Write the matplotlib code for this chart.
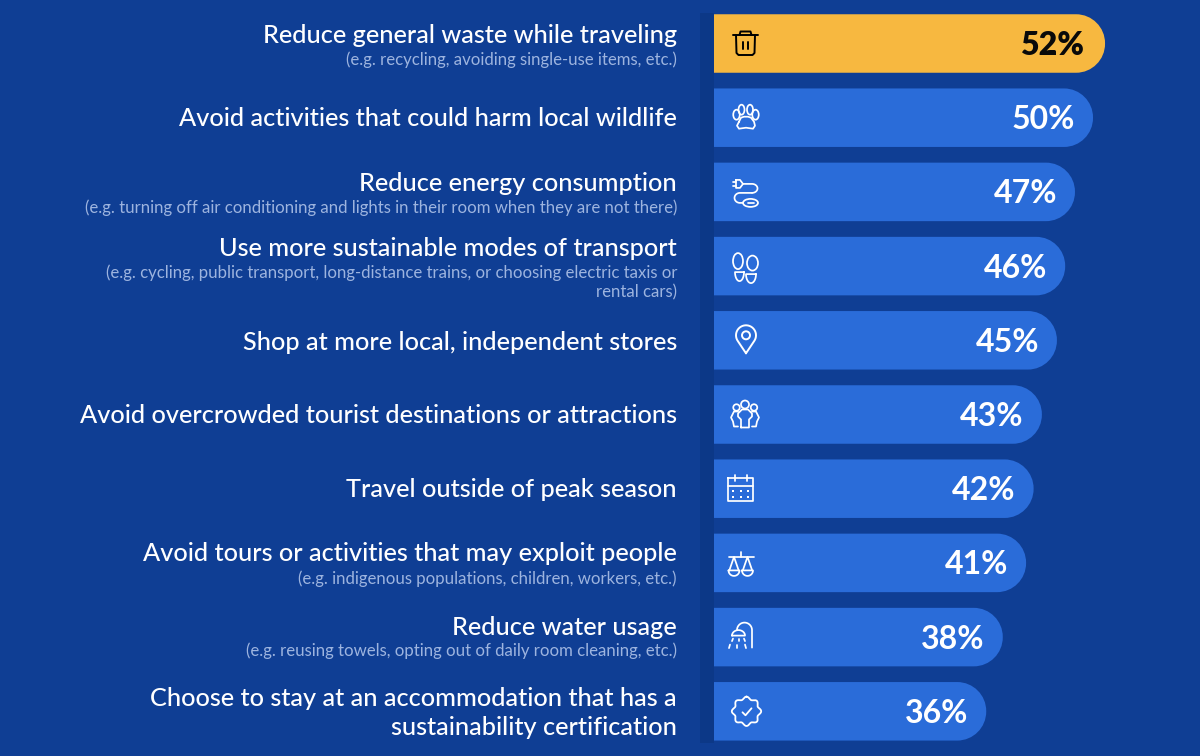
import numpy as np
import matplotlib
matplotlib.use('Agg')
import matplotlib.pyplot as plt
from matplotlib.path import Path
from matplotlib.patches import PathPatch, Ellipse, Rectangle

plt.rcParams['font.family'] = ['Lato', 'DejaVu Sans']

labels = ['Reduce general waste while traveling',
          'Avoid activities that could harm local wildlife',
          'Reduce energy consumption',
          'Use more sustainable modes of transport',
          'Shop at more local, independent stores',
          'Avoid overcrowded tourist destinations or attractions',
          'Travel outside of peak season',
          'Avoid tours or activities that may exploit people',
          'Reduce water usage',
          'Choose to stay at an accommodation that has a\nsustainability certification']
notes = ['(e.g. recycling, avoiding single-use items, etc.)',
         '',
         '(e.g. turning off air conditioning and lights in their room when they are not there)',
         '(e.g. cycling, public transport, long-distance trains, or choosing electric taxis or\nrental cars)',
         '',
         '',
         '',
         '(e.g. indigenous populations, children, workers, etc.)',
         '(e.g. reusing towels, opting out of daily room cleaning, etc.)',
         '']
pct_labels = ['52%', '50%', '47%', '46%', '45%', '43%', '42%', '41%', '38%', '36%']
# bar lengths as measured, they run a bit off the printed percentages
bar_lengths = [52.0, 50.4, 48.0, 46.7, 45.6, 43.6, 42.5, 41.5, 38.4, 36.2]

BG = '#0f3e94'
BLUE = '#2a6cd9'
GOLD = '#f7b840'
PX = 7.52    # pixels per percent
ROW0 = 43.5
PITCH = 74.2
BAR_H = 58.5 / PITCH
RADIUS = 29

fig = plt.figure(figsize=(12, 7.56), dpi=100, facecolor=BG)
ax = fig.add_axes([0, 0, 1, 1])
ax.set_xlim(-714 / PX, (1200 - 714) / PX)
ax.set_ylim((756 - ROW0) / PITCH, -ROW0 / PITCH)
ax.axis('off')

# overlay in pixels for texts and icons
ov = fig.add_axes([0, 0, 1, 1])
ov.set_xlim(0, 1200)
ov.set_ylim(756, 0)
ov.axis('off')
ov.patch.set_alpha(0)


def rounded_bar(row, length, color):
    rx = RADIUS / PX
    ry = min(RADIUS / PITCH, BAR_H / 2)
    k = 0.5523
    t, b = row - BAR_H / 2, row + BAR_H / 2
    x = length
    verts = [(0, t), (x - rx, t),
             (x - rx + k * rx, t), (x, t + ry - k * ry), (x, t + ry),
             (x, b - ry),
             (x, b - ry + k * ry), (x - rx + k * rx, b), (x - rx, b),
             (0, b), (0, t)]
    codes = [Path.MOVETO, Path.LINETO,
             Path.CURVE4, Path.CURVE4, Path.CURVE4,
             Path.LINETO,
             Path.CURVE4, Path.CURVE4, Path.CURVE4,
             Path.LINETO, Path.CLOSEPOLY]
    ax.add_patch(PathPatch(Path(verts, codes), fc=color, ec='none'))


def line(cx, cy, xs, ys, color, lw=1.25):
    ov.plot(cx + np.array(xs, float), cy + np.array(ys, float), color=color, lw=lw,
            solid_capstyle='round', solid_joinstyle='round')


def ell(cx, cy, x, y, w, h, color, lw=1.25, angle=0):
    ov.add_patch(Ellipse((cx + x, cy + y), w, h, angle=angle, fc='none', ec=color, lw=lw))


def arc(x, y, rx, ry, a0, a1):
    a = np.radians(np.linspace(a0, a1, 30))
    return x + rx * np.cos(a), y + ry * np.sin(a)


def icon_trash(cx, cy, c):
    line(cx, cy, [-12.5, 12.5], [-8.5, -8.5], c, 1.4)
    line(cx, cy, [-6, -5, 5, 6], [-8.5, -12, -12, -8.5], c, 1.4)
    line(cx, cy, [-9.5, -9, -7, 7, 9, 9.5], [-8.5, 9.5, 11.5, 11.5, 9.5, -8.5], c, 1.4)
    line(cx, cy, [-2.5, -2.5], [-1.5, 5.5], c, 1.4)
    line(cx, cy, [2.5, 2.5], [-1.5, 5.5], c, 1.4)


def icon_paw(cx, cy, c):
    ell(cx, cy, -9.5, -3, 6.5, 10, c)
    ell(cx, cy, -4.5, -8, 6, 10, c)
    ell(cx, cy, 4, -8, 6, 10, c)
    ell(cx, cy, 9.5, -3, 6.5, 10, c)
    line(cx, cy, [-7, -5, -2, 0, 2, 5, 8, 9, 7, 0, -7, -9, -7],
         [4, 0, -1, -1, -1, 0, 4, 8, 11, 10, 11, 8, 4], c)


def icon_plug(cx, cy, c):
    line(cx, cy, [-12, -9], [-10, -10], c)
    line(cx, cy, [-12, -9], [-6, -6], c)
    line(cx, cy, [-9, -9, -5, -2, -5, -9], [-12, -4, -4, -8, -12, -12], c)
    xs, ys = arc(7, -3.5, 5.5, 4.5, -90, 90)
    line(cx, cy, np.r_[-2, xs], np.r_[-8, ys], c)
    xs, ys = arc(-5, 6, 5.5, 5, 270, 90)
    line(cx, cy, np.r_[7, xs, -2], np.r_[1, ys, 11], c)
    ell(cx, cy, 5.5, 11, 15, 8, c)
    line(cx, cy, [3, 9], [11, 11], c)


def heel(cx, cy, x, y0, y1, w, c):
    xs, ys = arc(x, y0, w / 2, y1 - y0, 0, 180)
    line(cx, cy, np.r_[xs, x + w / 2], np.r_[ys, y0], c)


def icon_steps(cx, cy, c):
    ell(cx, cy, -7, -5, 10, 16, c)
    heel(cx, cy, -5.5, 6, 15, 9, c)
    ell(cx, cy, 7.5, -3, 11, 15, c)
    heel(cx, cy, 6, 8, 17, 10, c)


def icon_pin(cx, cy, c):
    xs, ys = arc(0, -5, 10, 10, 145, 395)
    line(cx, cy, np.r_[0, xs, 0], np.r_[13, ys, 13], c, 1.4)
    ell(cx, cy, 0, -5, 8, 8, c, 1.4)


def icon_group(cx, cy, c):
    ell(cx, cy, 0, -10, 8, 8, c)
    ell(cx, cy, -8.5, -7, 6.5, 6.5, c)
    ell(cx, cy, 9, -7, 6.5, 6.5, c)
    line(cx, cy, [-4, -4, -7, -7, -3, 3, 7, 7, 4, 4, -4],
         [13, 5, 2, -1, -5, -5, -1, 2, 5, 13, 13], c)
    line(cx, cy, [-7, -11, -14, -12, -11, -7], [-3, -3, 3, 7, 12, 12], c)
    line(cx, cy, [7, 11, 14, 12, 11, 7], [-3, -3, 3, 7, 12, 12], c)


def icon_calendar(cx, cy, c):
    line(cx, cy, [-12, 13, 13, -12, -12], [-11, -11, 12, 12, -11], c)
    line(cx, cy, [-12, 13], [-3, -3], c)
    line(cx, cy, [-5, -5], [-14, -8], c)
    line(cx, cy, [7, 7], [-14, -8], c)
    for y in (2, 8):
        for x in (-7, 0.5, 8):
            ov.plot(cx + x, cy + y, 's', ms=1.6, color=c, mew=0)


def icon_scales(cx, cy, c):
    line(cx, cy, [0, 0], [-11, -6], c)
    line(cx, cy, [-12.5, 12.5], [-6, -6], c)
    for x in (-7, 6.5):
        line(cx, cy, [x - 4.5, x, x + 4.5], [7, -6, 7], c)
        xs, ys = arc(x, 7.5, 5.5, 5.5, 0, 180)
        line(cx, cy, np.r_[x - 5.5, x + 5.5, xs], np.r_[7.5, 7.5, ys], c)


def icon_shower(cx, cy, c):
    xs, ys = arc(3.5, -7, 7.5, 7.5, 180, 360)
    line(cx, cy, np.r_[xs, 11], np.r_[ys, 10.5], c)
    xs, ys = arc(-2.5, -1.5, 6.5, 5.5, 180, 360)
    line(cx, cy, np.r_[xs, -9], np.r_[ys, -1.5], c)
    for x, d in zip((-8, -2, 3), (-1, 0, 1)):
        line(cx, cy, [x, x + d], [1.5, 4], c)
    for x, d in zip((-11, -4, 4), (-1, 0, 1)):
        line(cx, cy, [x, x + d], [7.5, 11], c)


def icon_badge(cx, cy, c):
    a = np.linspace(0, 2 * np.pi, 200)
    r = 13.4 + 1.3 * np.cos(8 * a)
    line(cx, cy, r * np.sin(a), -r * np.cos(a), c, 1.3)
    line(cx, cy, [-4, -1, 5], [1, 4, -3], c, 1.3)


icons = [icon_trash, icon_paw, icon_plug, icon_steps, icon_pin,
         icon_group, icon_calendar, icon_scales, icon_shower, icon_badge]
icon_x = [745.5, 746, 745, 745, 746, 745, 740, 741, 741, 746.5]

# vertical offsets from the bar centre, pixels
title_dy = [-8, 1, -8, -18, 2, 1, 1, -9, -10, 2]
note_dy = [16, 0, 16, 16, 0, 0, 0, 16, 14, 0]

# dark strip beside the bars
ax.add_patch(Rectangle((-14 / PX, (13 - ROW0) / PITCH), 14 / PX, 730 / PITCH, fc='#0c3887', ec='none', zorder=0))

for i, length in enumerate(bar_lengths):
    top = i == 0
    rounded_bar(i, length, GOLD if top else BLUE)
    y = ROW0 + PITCH * i
    end = 714 + length * PX
    c = 'black' if top else 'white'
    ov.text(end - (21.5 if top else 18), y + 2, pct_labels[i], ha='right', va='center',
            fontsize=23, fontweight='heavy' if top else 'bold', color='#0a0a0a' if top else 'white')
    ov.text(677, y + title_dy[i], labels[i], ha='right', va='center', fontsize=18.2,
            color='white', linespacing=1.3, fontweight='medium')
    if notes[i]:
        ov.text(677, y + note_dy[i], notes[i], ha='right', va='center', fontsize=12.05,
                color='#9db4df', linespacing=1.25, fontweight='normal')
    icons[i](icon_x[i], y, c)

fig.savefig('out.png', dpi=100, facecolor=BG)
